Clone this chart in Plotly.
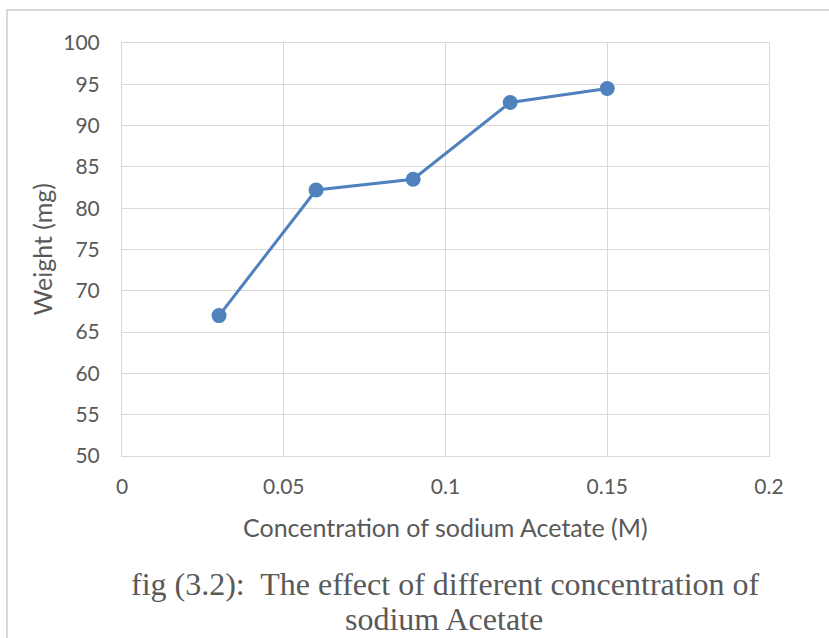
import plotly.graph_objects as go

concentration = [0.03, 0.06, 0.09, 0.12, 0.15]
weight = [67.0, 82.2, 83.5, 92.8, 94.5]

x_ticks = [0, 0.05, 0.1, 0.15, 0.2]
x_tick_labels = ["0", "0.05", "0.1", "0.15", "0.2"]
y_ticks = [50, 55, 60, 65, 70, 75, 80, 85, 90, 95, 100]

x_title = "Concentration of sodium Acetate (M)"
y_title = "Weight (mg)"
caption_line1 = "fig (3.2):  The effect of different concentration of"
caption_line2 = "sodium Acetate"

W, H = 829, 638
L, R, T, B = 122, 60, 43, 182
pw, ph = W - L - R, H - T - B


def px_x(v):
    return (v - L) / pw


def px_y(v):
    return (H - B - v) / ph


fig = go.Figure()
fig.add_trace(go.Scatter(
    x=concentration, y=weight, mode="lines+markers",
    line=dict(color="#4f81bd", width=3),
    marker=dict(color="#4f81bd", size=15),
    showlegend=False,
))

grid = "#d9d9d9"
sans = "Lato, Open Sans, sans-serif"
serif = "Liberation Serif, Times New Roman, serif"
tick_font = dict(family=sans, size=21, color="#595959")
title_font = dict(family=sans, size=25, color="#595959")
cap_font = dict(family=serif, size=32, color="#595959")

fig.update_layout(
    width=W, height=H,
    margin=dict(l=L, r=R, t=T, b=B, autoexpand=False),
    paper_bgcolor="white", plot_bgcolor="white",
    xaxis=dict(
        range=[0, 0.2], tickvals=x_ticks, ticktext=x_tick_labels,
        showgrid=True, gridcolor=grid, gridwidth=1,
        showline=True, linecolor=grid, linewidth=1, mirror=True,
        zeroline=False, tickfont=tick_font, ticklabelstandoff=12,
        fixedrange=True,
    ),
    yaxis=dict(
        range=[50, 100], tickvals=y_ticks,
        showgrid=True, gridcolor=grid, gridwidth=1,
        showline=True, linecolor=grid, linewidth=1, mirror=True,
        zeroline=False, tickfont=tick_font, ticklabelstandoff=17,
        fixedrange=True,
    ),
    annotations=[
        dict(text=x_title, xref="paper", yref="paper",
             x=px_x(445), y=px_y(527), xanchor="center", yanchor="middle",
             showarrow=False, font=title_font),
        dict(text=y_title, xref="paper", yref="paper",
             x=px_x(41), y=0.5, xanchor="center", yanchor="middle",
             textangle=-90, showarrow=False, font=title_font),
        dict(text=caption_line1, xref="paper", yref="paper",
             x=px_x(445), y=px_y(584), xanchor="center", yanchor="middle",
             showarrow=False, font=cap_font),
        dict(text=caption_line2, xref="paper", yref="paper",
             x=px_x(444), y=px_y(619), xanchor="center", yanchor="middle",
             showarrow=False, font=cap_font),
    ],
    shapes=[
        dict(type="rect", xref="paper", yref="paper",
             x0=px_x(7), x1=px_x(840),
             y0=px_y(660), y1=px_y(10),
             line=dict(color="#d9d9d9", width=2), fillcolor="rgba(0,0,0,0)", layer="below"),
    ],
)

fig.write_html("out.html")
